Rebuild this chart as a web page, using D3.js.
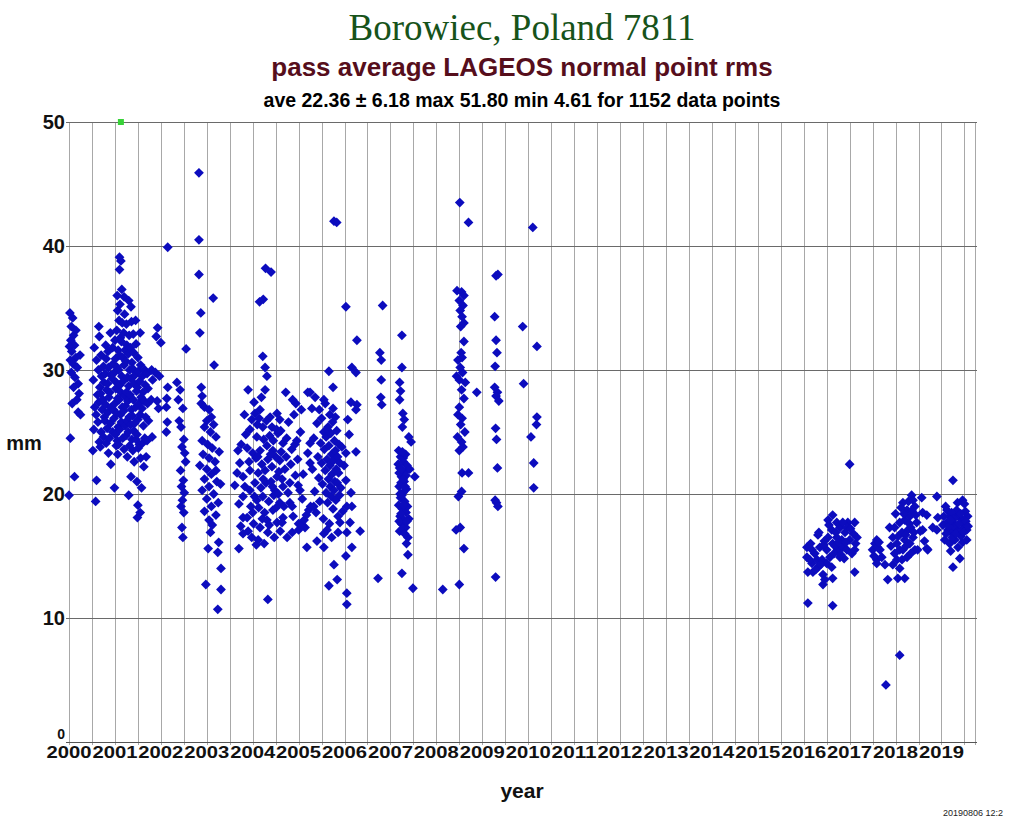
<!DOCTYPE html>
<html>
<head>
<meta charset="utf-8">
<script src="https://cdn.jsdelivr.net/npm/d3@7"></script>
<style>
html,body{margin:0;padding:0;background:#fff;}
svg{display:block;}
</style>
</head>
<body>
<svg id="chart" width="1011" height="818"></svg>
<script>
// ---------- data (year, rms mm) ----------
const yearTicks = [2000,2001,2002,2003,2004,2005,2006,2007,2008,2009,2010,2011,2012,2013,2014,2015,2016,2017,2018,2019];
const rmsTicks = [0,10,20,30,40,50];

const e2000 = [[2000.02,34.6],[2000.08,34.2],[2000.05,33.5],[2000.1,32.8],[2000.04,32.4],[2000.12,32.0],[2000.06,31.5],[2000.15,31.0],[2000.03,30.8],[2000.09,30.5],[2000.18,30.2],[2000.05,29.8],[2000.13,29.4],[2000.2,28.9],[2000.1,28.6],[2000.22,28.1],[2000.07,27.3],[2000.2,26.6],[2000.25,26.4],[2000.03,24.5],[2000.12,21.4],[2000.0,19.9],[2000.15,33.2],[2000.24,31.2],[2000.01,31.9],[2000.17,27.6]];

const e2001 = [
[2000.55,31.8],[2000.53,29.2],[2000.56,27.0],[2000.54,25.2],[2000.52,23.5],
[2000.6,30.8],[2000.62,28.0],[2000.59,26.4],[2000.6,21.1],[2000.58,19.4],
[2000.65,33.5],[2000.66,32.7],[2000.64,30.0],[2000.67,28.6],[2000.65,27.4],[2000.63,25.8],[2000.66,24.2],
[2000.7,31.2],[2000.71,29.5],[2000.69,28.1],[2000.72,26.8],[2000.7,25.0],[2000.68,23.8],
[2000.75,30.3],[2000.76,29.0],[2000.74,27.6],[2000.77,26.2],[2000.75,24.6],
[2000.8,32.0],[2000.81,30.9],[2000.79,29.7],[2000.82,28.4],[2000.8,27.2],[2000.78,25.9],[2000.81,24.1],
[2000.85,31.5],[2000.86,30.2],[2000.84,28.9],[2000.87,27.8],[2000.85,26.6],[2000.83,25.3],[2000.86,23.3],
[2000.9,33.0],[2000.91,29.6],[2000.89,28.2],[2000.92,27.0],[2000.9,25.7],[2000.88,24.5],[2000.91,22.4],
[2000.95,31.8],[2000.96,30.5],[2000.94,29.3],[2000.97,26.8],[2000.95,25.0],[2000.99,20.5],
[2001.0,32.4],[2001.01,30.9],[2000.99,29.8],[2001.02,28.5],[2001.0,27.3],[2000.98,26.1],[2001.01,24.8],[2001.03,23.9],
[2001.05,36.0],[2001.06,34.8],[2001.04,33.2],[2001.07,31.6],[2001.05,30.2],[2001.03,29.0],[2001.06,27.7],[2001.04,26.5],[2001.07,25.4],[2001.05,24.3],[2001.06,23.2],
[2001.1,39.1],[2001.1,38.1],[2001.11,35.3],[2001.09,34.0],[2001.12,32.6],[2001.1,31.2],[2001.08,30.0],[2001.11,28.8],[2001.09,27.6],[2001.12,26.4],[2001.1,25.2],[2001.08,24.0],
[2001.13,38.8],[2001.15,36.5],[2001.16,33.8],[2001.14,32.3],[2001.17,31.0],[2001.15,29.5],[2001.13,28.2],[2001.16,27.0],[2001.14,25.8],[2001.17,24.5],
[2001.2,35.9],[2001.21,34.5],[2001.19,33.0],[2001.22,31.6],[2001.2,30.4],[2001.18,29.1],[2001.21,27.9],[2001.19,26.7],[2001.22,25.5],[2001.2,23.6],
[2001.25,33.7],[2001.26,32.0],[2001.24,30.7],[2001.27,29.4],[2001.25,28.2],[2001.23,27.1],[2001.26,25.9],[2001.24,24.7],[2001.27,23.0],
[2001.3,35.6],[2001.31,32.8],[2001.29,31.3],[2001.32,30.0],[2001.3,28.7],[2001.28,27.5],[2001.31,26.2],[2001.29,25.0],[2001.32,23.9],[2001.3,19.9],
[2001.35,35.1],[2001.36,33.9],[2001.34,31.8],[2001.37,30.6],[2001.35,29.3],[2001.33,28.0],[2001.36,26.8],[2001.34,25.6],[2001.37,24.4],[2001.35,21.4],
[2001.4,32.9],[2001.41,31.4],[2001.39,30.1],[2001.42,28.9],[2001.4,27.6],[2001.38,26.3],[2001.41,25.1],[2001.39,23.5],[2001.42,22.6],
[2001.45,34.0],[2001.46,32.1],[2001.44,29.6],[2001.47,28.3],[2001.45,27.0],[2001.43,25.7],[2001.46,24.4],[2001.48,21.0],[2001.5,19.1],
[2001.5,31.0],[2001.51,29.9],[2001.49,28.6],[2001.52,27.3],[2001.5,26.0],[2001.48,24.8],[2001.51,23.7],[2001.49,18.1],
[2001.55,33.0],[2001.56,30.4],[2001.54,29.1],[2001.57,27.8],[2001.55,26.4],[2001.53,24.0],[2001.56,22.9],[2001.58,20.5],
[2001.6,29.5],[2001.61,28.2],[2001.59,26.9],[2001.62,25.5],[2001.6,24.1],[2001.63,22.2],
[2001.65,30.0],[2001.66,28.8],[2001.64,27.5],[2001.67,26.2],[2001.65,24.5],[2001.68,23.0],[2001.55,18.5],
[2001.7,29.7],[2001.72,28.5],[2001.71,27.3],[2001.73,25.9],[2001.7,24.3],
[2001.8,30.0],[2001.82,29.2],[2001.79,27.6],[2001.81,24.6],
[2001.93,33.4],[2001.9,32.7],[2001.88,29.8],[2001.92,27.5],
[2002.0,32.2],[2001.97,29.5],[2001.95,26.9],
[2002.15,28.6],[2002.13,27.7],[2002.12,27.0],[2002.14,25.8],[2002.12,25.0],
[2002.15,39.9]];

const e2002 = [[2002.55,31.7],[2002.35,29.0],[2002.42,28.4],[2002.48,26.9],[2002.44,25.4],[2002.5,24.4],[2002.46,23.8],[2002.52,23.3],[2002.43,21.9],[2002.49,21.1],[2002.45,20.6],[2002.51,20.1],[2002.47,19.5],[2002.44,19.0],[2002.5,18.5],[2002.46,17.3],[2002.48,16.5],[2002.38,27.6],[2002.4,25.9],[2002.54,22.6]];

const e2003 = [[2002.83,45.9],[2002.83,40.5],[2002.83,37.7],[2003.14,35.8],[2002.87,34.6],[2002.85,33.0],[2003.16,30.4],[2002.88,28.6],[2002.9,27.9],[2002.88,27.3],[2002.95,27.0],[2003.05,26.8],[2003.1,26.2],[2003.0,25.9],[2003.15,25.6],[2002.95,25.4],[2003.08,25.0],[2003.2,24.6],[2002.9,24.3],[2003.02,24.0],[2003.12,23.7],[2002.92,23.2],[2003.05,22.9],[2003.18,22.6],[2002.85,22.3],[2003.0,22.0],[2003.1,21.6],[2002.95,21.2],[2003.22,21.0],[2003.05,20.6],[2002.9,20.3],[2003.15,20.0],[2003.0,19.6],[2003.25,19.3],[2003.1,19.0],[2002.95,18.6],[2003.2,18.3],[2003.05,17.9],[2003.12,17.5],[2003.08,16.9],[2003.03,15.6],[2003.26,16.1],[2003.24,15.3],[2003.31,14.0],[2002.98,12.7],[2003.31,12.3],[2003.24,10.7],[2003.2,21.9],[2003.27,23.4],[2003.3,20.8]];

const e2004 = [[2004.15,35.5],[2004.23,35.7],[2004.28,38.2],[2004.4,37.9],[2004.22,31.1],[2004.27,30.2],[2004.31,29.5],[2004.27,28.4],[2003.9,28.4],[2004.72,28.2],[2004.94,27.3],[2005.2,28.2],
[2003.68,23.5],[2003.72,22.5],[2003.61,20.7],[2003.7,19.2],[2003.79,18.1],[2003.7,15.6],[2003.79,16.8],
[2003.98,26.0],[2004.05,26.5],[2004.16,26.8],[2003.94,25.2],[2004.09,24.6],[2004.22,25.4],[2003.88,23.7],[2004.0,23.3],[2004.16,23.5],[2004.31,23.9],[2003.79,21.4],[2003.94,21.9],[2004.12,21.7],[2004.27,21.9],[2003.79,19.8],[2003.94,20.3],[2004.09,19.5],[2004.22,19.8],[2003.88,18.1],[2004.0,18.5],[2004.16,17.3],[2004.31,17.9],[2003.98,16.5],[2004.12,16.3],[2004.33,16.9],[2004.53,17.7],[2004.66,18.1],[2004.44,18.7],[2004.59,19.3],[2004.48,20.3],[2004.66,20.6],[2004.53,21.4],[2004.42,22.2],[2004.59,22.7],[2004.44,23.5],[2004.66,24.1],[2004.55,24.9],[2004.42,25.4],[2004.59,26.0],[2004.53,26.5],[2004.38,26.2],
[2004.81,20.9],[2004.99,20.7],[2005.03,20.3],[2004.81,19.3],[2004.75,16.5],[2004.86,16.9],[2004.64,17.7],[2004.33,11.5],[2005.18,15.7],[2005.25,22.5],[2005.2,23.3],[2005.25,24.1],
[2003.85,24.8],[2003.92,22.6],[2003.96,19.0],[2004.02,17.6],[2004.05,20.9],[2004.07,22.9],[2004.1,25.6],[2004.13,18.9],[2004.18,20.5],[2004.2,22.4],[2004.24,24.4],[2004.26,18.5],[2004.29,20.9],[2004.33,22.8],[2004.35,19.4],[2004.37,24.7],[2004.4,21.0],[2004.46,19.9],[2004.5,23.0],[2004.52,25.2],[2004.57,21.8],[2004.62,23.4],[2004.7,22.0],[2004.74,24.5],[2004.78,25.8],[2004.85,23.6],[2004.9,26.4],[2004.96,24.3],[2005.06,26.8],[2005.1,21.6],[2005.14,17.3],[2004.03,27.4],[2004.19,27.8],[2003.82,26.4],[2004.47,16.5],[2004.6,17.0],[2004.88,18.2],[2005.0,17.6],[2004.08,15.9],[2004.25,16.0],
[2003.75,24.0],[2003.83,20.6],[2003.9,17.0],[2004.04,19.8],[2004.11,23.0],[2004.14,26.1],[2004.21,18.0],[2004.23,21.2],[2004.3,25.9],[2004.36,17.5],[2004.39,23.2],[2004.43,20.6],[2004.45,24.3],[2004.51,18.9],[2004.56,20.0],[2004.61,25.1],[2004.64,21.2],[2004.68,19.0],[2004.73,23.0],[2004.77,20.1],[2004.83,22.4],[2004.87,27.6],[2004.93,21.5],[2004.98,22.8],[2005.04,25.0],[2005.08,19.6],[2003.66,21.7],[2003.74,17.4]];

const e2005 = [[2005.25,28.2],[2005.36,27.8],[2005.29,26.9],[2005.55,27.6],[2005.75,28.6],[2005.66,29.9],[2005.75,26.9],
[2005.55,15.7],[2005.77,14.3],[2005.66,12.6],[2005.84,13.1],[2006.05,12.0],[2006.05,11.1],[2006.03,15.0],
[2006.03,35.1],[2006.27,32.4],[2006.16,30.2],[2006.25,29.8],[2006.14,27.4],[2006.27,27.2],[2006.25,26.8],[2006.07,26.0],[2006.1,24.8],[2006.25,23.4],[2006.03,23.3],[2005.99,22.3],[2006.03,21.1],[2006.14,20.1],[2006.05,19.0],[2006.16,19.0],[2005.9,17.7],[2006.12,17.7],[2006.34,17.0],[2006.16,15.7],[2006.05,16.9],[2005.77,42.0],[2005.83,41.9],
[2005.0,17.1],[2005.07,17.5],[2005.12,17.9],[2005.17,18.3],[2005.22,18.7],[2005.26,19.0],[2004.92,24.0],[2004.86,19.0],
[2005.3,22.0],[2005.33,24.5],[2005.35,20.2],[2005.38,18.5],[2005.4,25.7],[2005.42,23.0],[2005.44,21.3],[2005.46,19.4],[2005.48,24.1],[2005.5,22.5],[2005.5,26.1],[2005.52,20.8],[2005.54,18.0],[2005.55,25.0],[2005.56,23.6],[2005.58,21.9],[2005.6,20.1],[2005.6,24.6],[2005.62,22.8],[2005.63,19.3],[2005.64,25.4],[2005.65,21.2],[2005.66,23.9],[2005.67,17.6],[2005.68,22.3],[2005.69,20.6],[2005.7,24.9],[2005.71,19.8],[2005.72,23.2],[2005.73,21.6],[2005.74,25.8],[2005.75,18.8],[2005.76,22.7],[2005.77,20.3],[2005.78,24.3],[2005.79,21.0],[2005.8,23.5],[2005.81,19.5],[2005.82,22.0],[2005.83,25.1],[2005.84,20.9],[2005.85,23.0],[2005.86,18.2],[2005.87,21.7],[2005.88,24.0],[2005.89,19.9],[2005.9,22.5],[2005.92,20.5],[2005.94,23.8],[2005.96,18.6],[2005.55,16.8],[2005.62,17.1],[2005.72,16.5],[2005.86,16.9],[2005.45,26.8],[2005.58,27.3],[2005.68,26.4],[2005.8,26.2],[2005.4,16.2],[2005.33,19.0]];

const e2007 = [[2006.83,35.2],[2006.77,31.4],[2006.8,30.8],[2006.8,29.2],[2006.79,27.8],[2006.81,27.2],[2006.73,13.2],
[2007.25,32.8],[2007.25,30.2],[2007.2,29.0],[2007.22,28.3],[2007.2,27.6],[2007.27,26.5],[2007.3,26.0],[2007.26,25.4],[2007.45,24.2],
[2007.18,23.5],[2007.22,23.0],[2007.28,22.6],[2007.2,22.1],[2007.32,21.8],[2007.24,21.4],[2007.3,21.0],[2007.19,20.6],[2007.35,20.4],[2007.27,20.1],[2007.22,19.7],[2007.31,19.4],[2007.18,19.1],[2007.26,18.8],[2007.34,18.5],[2007.21,18.2],[2007.29,17.9],[2007.24,17.6],[2007.33,17.3],[2007.2,17.0],[2007.28,22.9],[2007.36,22.3],[2007.25,19.9],[2007.3,18.7],[2007.23,20.9],[2007.37,19.0],[2007.19,21.7],[2007.33,23.2],[2007.27,17.2],[2007.38,16.5],[2007.38,15.1],[2007.25,13.6],[2007.49,12.4],[2007.53,21.4],[2007.4,24.6],[2007.35,16.0],[2007.42,22.0],[2007.4,18.0],
[2007.17,22.4],[2007.21,20.0],[2007.26,23.4],[2007.29,19.1],[2007.32,20.6],[2007.23,18.4],[2007.34,21.5],[2007.19,17.8],[2007.31,16.8],[2007.36,17.8],[2007.28,21.2],[2007.24,22.0]];

const e2008 = [[2008.14,12.3],[2008.51,43.5],[2008.7,41.9],
[2008.45,36.4],[2008.55,36.3],[2008.6,36.0],[2008.5,35.6],[2008.58,35.2],[2008.52,34.8],[2008.56,34.3],[2008.53,33.5],[2008.6,32.3],[2008.54,31.4],[2008.56,31.0],[2008.52,30.2],[2008.57,29.8],[2008.5,29.2],[2008.44,29.5],[2008.55,28.4],[2008.6,27.7],[2008.5,27.0],[2008.56,26.1],[2008.53,25.6],[2008.46,24.6],[2008.55,24.2],[2008.58,23.8],[2008.5,23.5],[2008.56,21.7],[2008.7,21.7],[2008.55,20.2],[2008.52,17.3],[2008.6,15.6],[2008.5,12.7],[2008.88,28.2],[2008.48,19.8],[2008.43,17.1],[2008.62,25.0],[2008.47,26.4],[2008.63,29.0],[2008.6,33.8],[2008.47,30.8]];

const e2009 = [[2009.3,37.6],[2009.34,37.7],[2009.27,34.3],[2009.3,32.4],[2009.32,31.4],[2009.28,30.3],[2009.27,28.6],[2009.33,28.2],[2009.3,27.9],[2009.36,27.5],[2009.29,25.3],[2009.31,24.4],[2009.33,22.1],[2009.28,19.5],[2009.31,19.3],[2009.34,19.0],[2009.29,13.3],
[2010.1,41.5],[2009.88,33.5],[2010.19,31.9],[2009.9,28.9],[2010.19,26.2],[2010.18,25.6],[2010.06,24.6],[2010.12,22.5],[2010.12,20.5]];

const e2016 = [[2017.0,22.4],[2016.09,11.2],[2016.63,11.0],
[2016.07,15.7],[2016.07,14.9],[2016.09,13.7],[2016.18,14.4],[2016.24,15.2],[2016.31,16.7],[2016.35,15.7],[2016.31,14.1],[2016.42,13.5],[2016.42,12.7],[2016.46,13.1],[2016.53,17.9],[2016.63,18.3],[2016.61,17.1],[2016.63,16.0],[2016.57,14.9],[2016.61,14.1],[2016.63,13.2],[2016.72,16.5],[2016.74,15.5],[2016.79,17.3],[2016.83,16.3],[2016.85,15.7],[2016.9,16.9],[2016.94,15.5],[2016.96,17.7],[2017.0,16.3],[2017.05,15.2],[2017.11,17.7],[2017.16,16.5],[2017.11,15.5],[2017.11,13.7],[2016.18,15.5],[2016.13,14.7],[2016.2,13.7],[2016.29,14.7],[2016.4,14.7],[2016.5,15.5],[2016.5,14.4],[2016.53,16.5],[2016.72,17.7],[2016.85,17.7],[2016.94,17.3],[2016.79,14.9],[2016.33,16.9],[2016.45,16.2],[2016.68,15.8],[2016.88,14.8],[2017.08,16.8],
[2016.15,16.0],[2016.26,13.9],[2016.37,14.3],[2016.44,15.9],[2016.55,17.5],[2016.66,15.2],[2016.7,16.9],[2016.76,16.1],[2016.81,15.1],[2016.92,16.1],[2017.02,17.2],[2017.13,16.0]];

const e2018 = [[2017.79,4.6],[2018.09,7.0],
[2017.55,16.0],[2017.5,15.5],[2017.59,14.7],[2017.59,14.4],[2017.66,15.5],[2017.7,14.9],[2017.77,14.3],[2017.61,15.7],[2017.83,13.1],[2017.59,16.3],
[2017.87,17.3],[2017.94,16.5],[2018.03,16.0],[2018.09,15.5],[2018.03,14.7],[2018.09,14.0],[2018.05,13.2],[2018.2,13.2],[2018.16,19.3],[2018.25,18.7],[2018.2,17.9],[2018.31,18.2],[2018.27,17.1],[2018.33,17.3],[2018.38,16.5],[2018.2,16.3],[2018.16,15.5],[2018.31,16.0],[2018.35,19.9],[2018.38,19.5],[2018.42,19.0],[2018.46,17.7],[2018.42,15.5],[2017.98,17.3],[2018.09,17.7],[2018.14,16.9],[2017.98,15.2],[2018.14,14.7],[2017.94,14.3],[2018.25,14.9],[2018.33,15.2],[2018.0,18.4],[2018.12,18.9],[2018.22,16.7],[2018.28,19.4],
[2018.57,19.7],[2018.59,18.5],[2018.68,18.3],[2018.59,17.1],[2018.68,15.6],[2018.7,15.5],[2018.81,17.3],[2018.9,17.1],[2018.9,19.8],[2018.92,18.1],[2018.48,15.5],
[2017.53,15.0],[2017.64,16.1],[2017.9,15.8],[2018.06,16.6],[2018.18,18.4],[2018.23,15.8],[2018.3,17.6],[2018.36,18.7],[2018.4,16.9],[2018.44,18.3],[2018.54,17.0],[2018.63,16.2]];

const e2019 = [[2019.25,21.1],[2019.46,19.5],
[2019.12,18.7],[2019.18,18.2],[2019.25,17.7],[2019.33,18.3],[2019.4,18.1],[2019.46,17.9],[2019.51,17.5],[2019.12,17.7],[2019.14,17.1],[2019.22,16.9],[2019.29,17.3],[2019.36,17.0],[2019.44,17.1],[2019.55,17.1],[2019.07,16.3],[2019.18,16.0],[2019.29,16.3],[2019.36,15.7],[2019.46,16.1],[2019.4,14.8],[2019.25,14.1],[2019.55,16.3],[2019.57,18.2],[2019.33,18.7],[2019.22,18.5],[2019.03,17.5],[2019.09,19.0],[2019.5,19.2],[2019.2,15.4],[2019.42,16.6],[2019.52,18.6],[2019.05,18.2],
[2019.1,16.8],[2019.16,17.4],[2019.23,16.5],[2019.27,18.0],[2019.31,16.8],[2019.38,17.6],[2019.42,18.4],[2019.48,16.9],[2019.53,17.8],[2019.58,17.4],[2019.2,17.9],[2019.35,19.3]];

const clipped = [[2001.13,50]];

const allPoints = [].concat(e2000,e2001,e2002,e2003,e2004,e2005,e2007,e2008,e2009,e2016,e2018,e2019);

// ---------- drawing ----------
const svg = d3.select("#chart");
const L = 69, R = 975, T = 122, B = 742;
const x = d3.scaleLinear().domain([2000, 2019.73]).range([L, R]);
const y = d3.scaleLinear().domain([0, 50]).range([B, T]);

svg.append("rect").attr("width",1011).attr("height",818).attr("fill","#fff");

// vertical half-year grid
const halfYears = d3.range(2000, 2019.51, 0.5);
svg.append("g").selectAll("line").data(halfYears).join("line")
  .attr("x1", d => Math.round(x(d)) + 0.5).attr("x2", d => Math.round(x(d)) + 0.5)
  .attr("y1", T).attr("y2", B + 3)
  .attr("stroke", "#a8a8a8").attr("stroke-width", 1);
// right edge
svg.append("line").attr("x1", R + 0.5).attr("x2", R + 0.5).attr("y1", T).attr("y2", B + 3)
  .attr("stroke", "#a8a8a8");

// horizontal grid
svg.append("g").selectAll("line").data(rmsTicks).join("line")
  .attr("x1", L - 3).attr("x2", R + 2)
  .attr("y1", d => Math.round(y(d)) + 0.5).attr("y2", d => Math.round(y(d)) + 0.5)
  .attr("stroke", d => d === 0 ? "#555" : "#6a6a6a").attr("stroke-width", 1);

// y tick labels
svg.append("g").selectAll("text").data(rmsTicks).join("text")
  .attr("x", L - 4).attr("y", d => y(d) + (d === 0 ? -3 : 7))
  .attr("text-anchor", "end")
  .attr("font-family", "Liberation Sans, Arial, sans-serif")
  .attr("font-weight", "bold").attr("font-size", d => d === 0 ? 14 : 20)
  .attr("fill", "#111")
  .text(d => d);

// x tick labels (wide, touching as in the reference)
svg.append("g").selectAll("text").data(yearTicks).join("text")
  .attr("x", d => x(d) - 22.5).attr("y", 758)
  .attr("textLength", 45).attr("lengthAdjust", "spacingAndGlyphs")
  .attr("font-family", "Liberation Sans, Arial, sans-serif")
  .attr("font-weight", "bold").attr("font-size", 17)
  .attr("fill", "#111")
  .text(d => d);

// points
const diamond = d3.symbol().type(d3.symbolSquare).size(48);
svg.append("g").selectAll("path").data(allPoints).join("path")
  .attr("d", diamond)
  .attr("transform", d => `translate(${x(d[0])},${y(d[1])}) rotate(45)`)
  .attr("fill", "#0c0cbe");

// clipped value marker
svg.append("g").selectAll("rect").data(clipped).join("rect")
  .attr("x", d => x(d[0]) - 3).attr("y", d => y(d[1]) - 3)
  .attr("width", 6).attr("height", 6)
  .attr("fill", "#38d238");

// titles
svg.append("text").attr("x", 522).attr("y", 40).attr("text-anchor", "middle")
  .attr("font-family", "Liberation Serif, Times New Roman, serif")
  .attr("font-size", 37).attr("fill", "#17531a")
  .text("Borowiec, Poland 7811");
svg.append("text").attr("x", 522).attr("y", 76).attr("text-anchor", "middle")
  .attr("font-family", "Liberation Sans, Arial, sans-serif").attr("font-weight", "bold")
  .attr("font-size", 26).attr("fill", "#560e1c")
  .text("pass average LAGEOS normal point rms");
svg.append("text").attr("x", 522).attr("y", 107).attr("text-anchor", "middle")
  .attr("font-family", "Liberation Sans, Arial, sans-serif").attr("font-weight", "bold")
  .attr("font-size", 19.5).attr("fill", "#000")
  .text("ave 22.36 \u00b1 6.18 max 51.80 min 4.61 for 1152 data points");

// axis titles
svg.append("text").attr("x", 24).attr("y", 450).attr("text-anchor", "middle")
  .attr("font-family", "Liberation Sans, Arial, sans-serif").attr("font-weight", "bold")
  .attr("font-size", 20).attr("fill", "#111")
  .text("mm");
svg.append("text").attr("x", 522).attr("y", 798).attr("text-anchor", "middle")
  .attr("font-family", "Liberation Sans, Arial, sans-serif").attr("font-weight", "bold")
  .attr("font-size", 21).attr("fill", "#111")
  .text("year");

// timestamp
svg.append("text").attr("x", 943).attr("y", 816)
  .attr("font-family", "Liberation Sans, Arial, sans-serif")
  .attr("font-size", 9).attr("fill", "#222")
  .text("20190806 12:2");
</script>
</body>
</html>
